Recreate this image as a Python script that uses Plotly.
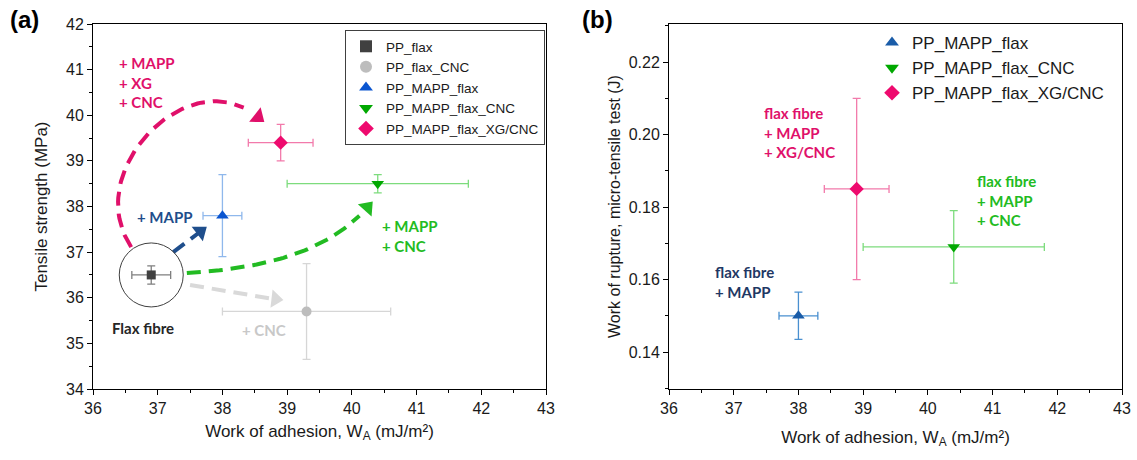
import numpy as np
import plotly.graph_objects as go

W, H = 1137, 460

# ---------------- data ----------------
# Panel (a): work of adhesion vs tensile strength
names_a = ["PP_flax", "PP_flax_CNC", "PP_MAPP_flax", "PP_MAPP_flax_CNC", "PP_MAPP_flax_XG/CNC"]
wa_a = [36.9, 39.3, 38.0, 40.4, 38.9]
wa_err_a = [0.3, 1.3, 0.3, 1.4, 0.5]
ts_a = [36.5, 35.7, 37.8, 38.5, 39.4]
ts_err_a = [0.2, 1.05, 0.9, 0.2, 0.4]

# Panel (b): work of adhesion vs work of rupture
names_b = ["PP_MAPP_flax", "PP_MAPP_flax_CNC", "PP_MAPP_flax_XG/CNC"]
wa_b = [38.0, 40.4, 38.9]
wa_err_b = [0.3, 1.4, 0.5]
wr_b = [0.150, 0.169, 0.185]
wr_err_b = [0.0065, 0.010, 0.025]

x_ticks = [36, 37, 38, 39, 40, 41, 42, 43]
ya_ticks = [34, 35, 36, 37, 38, 39, 40, 41, 42]
yb_ticks = [0.14, 0.16, 0.18, 0.20, 0.22]

# ---------------- styles ----------------
sym_a = ["square", "circle", "triangle-up", "triangle-down", "diamond"]
mcol_a = ["#404040", "#bdbdbd", "#0a55d0", "#00a800", "#ee0a6e"]
ecol_a = ["#7f7f7f", "#d6d6d6", "#8fb8ec", "#7ddc7d", "#f27aab"]
msize_a = [9, 10, 11, 11, 11]

sym_b = ["triangle-up", "triangle-down", "diamond"]
mcol_b = ["#1a5ca8", "#00a800", "#ee0a6e"]
ecol_b = ["#4a90d0", "#7ddc7d", "#f27aab"]
msize_b = [11, 11, 11]

fig = go.Figure()

for i, n in enumerate(names_a):
    fig.add_trace(go.Scatter(
        x=[wa_a[i]], y=[ts_a[i]], mode="markers", name=n,
        marker=dict(symbol=sym_a[i], size=msize_a[i], color=mcol_a[i]),
        error_x=dict(type="data", array=[wa_err_a[i]], color=ecol_a[i], thickness=1.3, width=4),
        error_y=dict(type="data", array=[ts_err_a[i]], color=ecol_a[i], thickness=1.3, width=4),
        xaxis="x", yaxis="y", legend="legend"))

for i, n in enumerate(names_b):
    fig.add_trace(go.Scatter(
        x=[wa_b[i]], y=[wr_b[i]], mode="markers", name=n,
        marker=dict(symbol=sym_b[i], size=msize_b[i], color=mcol_b[i]),
        error_x=dict(type="data", array=[wa_err_b[i]], color=ecol_b[i], thickness=1.3, width=4),
        error_y=dict(type="data", array=[wr_err_b[i]], color=ecol_b[i], thickness=1.3, width=4),
        xaxis="x2", yaxis="y2", legend="legend2"))

# ---------------- curved dashed arrows (annotation geometry, panel a) ----------------
arrows = [
    # (P0, P1, P2, P3, colour)
    ((36.59, 37.11), (35.80, 38.80), (37.50, 41.21), (38.55, 39.96), "#e0106a"),
    ((37.24, 37.00), (37.38, 37.15), (37.52, 37.30), (37.66, 37.45), "#1f4e8c"),
    ((37.45, 36.54), (38.74, 36.65), (39.66, 37.05), (40.24, 37.98), "#22bb22"),
    ((37.50, 36.28), (38.12, 36.13), (38.50, 36.02), (38.82, 35.97), "#d9d9d9"),
]
t = np.linspace(0, 1, 60)
for p0, p1, p2, p3, col in arrows:
    bx = (1-t)**3*p0[0] + 3*(1-t)**2*t*p1[0] + 3*(1-t)*t**2*p2[0] + t**3*p3[0]
    by = (1-t)**3*p0[1] + 3*(1-t)**2*t*p1[1] + 3*(1-t)*t**2*p2[1] + t**3*p3[1]
    fig.add_trace(go.Scatter(
        x=bx[:-4], y=by[:-4], mode="lines", showlegend=False, hoverinfo="skip",
        line=dict(color=col, width=4, dash="14px,8px"), xaxis="x", yaxis="y"))
    sizes = [0]*(len(t)-1) + [16]
    fig.add_trace(go.Scatter(
        x=bx, y=by, mode="markers", showlegend=False, hoverinfo="skip",
        marker=dict(symbol="triangle-up", size=sizes, color=col, opacity=1,
                    angleref="previous", line=dict(width=0)),
        xaxis="x", yaxis="y"))

# circle around PP_flax
fig.add_shape(type="circle", xref="x", yref="y", xsizemode="pixel", ysizemode="pixel",
              xanchor=wa_a[0], yanchor=ts_a[0], x0=-32, x1=32, y0=-32, y1=32,
              line=dict(color="#404040", width=1))

# ---------------- annotations ----------------
lab_font = "Lato, 'Open Sans', sans-serif"
def txt(x, y, s, col, xr="x", yr="y", size=15):
    fig.add_annotation(x=x, y=y, xref=xr, yref=yr, text=s, showarrow=False,
                       xanchor="left", yanchor="middle", align="left",
                       font=dict(family=lab_font, size=size, color=col))

txt(36.37, 40.71, "<b>+ MAPP<br>+ XG<br>+ CNC</b>", "#e0106a")
txt(36.65, 37.77, "<b>+ MAPP</b>", "#1f4e8c")
txt(36.26, 35.34, "<b>Flax fibre</b>", "#262626")
txt(38.27, 35.29, "<b>+ CNC</b>", "#c8c8c8")
txt(40.44, 37.35, "<b>+ MAPP<br>+ CNC</b>", "#22bb22")

txt(37.44, 0.2007, "<b>flax fibre<br>+ MAPP<br>+ XG/CNC</b>", "#e0106a", "x2", "y2")
txt(40.73, 0.1819, "<b>flax fibre<br>+ MAPP<br>+ CNC</b>", "#22bb22", "x2", "y2")
txt(36.68, 0.1593, "<b>flax fibre<br>+ MAPP</b>", "#1f3864", "x2", "y2")

for s, px in [("(a)", 8), ("(b)", 580)]:
    fig.add_annotation(x=px/W, y=1-20/H, xref="paper", yref="paper", text="<b>"+s+"</b>",
                       showarrow=False, xanchor="left", yanchor="middle",
                       font=dict(family="Liberation Sans, Arial", size=24, color="#000"))

# ---------------- axes ----------------
ax_common = dict(showline=True, linecolor="#000", linewidth=1, mirror=True,
                 ticks="outside", ticklen=5, tickwidth=1, tickcolor="#000",
                 showgrid=False, zeroline=False, automargin=False,
                 tickfont=dict(family="Liberation Sans, Arial", size=16, color="#1a1a1a"))
xt = "Work of adhesion, W<sub>A</sub> (mJ/m²)"
fig.update_layout(
    width=W, height=H, plot_bgcolor="white", paper_bgcolor="white",
    margin=dict(l=0, r=0, t=0, b=0, autoexpand=False),
    font=dict(family="Liberation Sans, Arial", color="#1a1a1a"),
    xaxis=dict(domain=[93/W, 546/W], range=[36, 43], tickvals=x_ticks, anchor="y",
               minor=dict(dtick=0.5, ticks="outside", ticklen=3, tickcolor="#000"),
               title=dict(text=xt, font=dict(size=17), standoff=8), **ax_common),
    yaxis=dict(domain=[1-389/H, 1-24/H], range=[34, 42], tickvals=ya_ticks, anchor="x",
               minor=dict(dtick=0.5, ticks="outside", ticklen=3, tickcolor="#000"),
               title=dict(text="Tensile strength (MPa)", font=dict(size=17), standoff=14), **ax_common),
    xaxis2=dict(domain=[669/W, 1122/W], range=[36, 43], tickvals=x_ticks, anchor="y2",
                minor=dict(dtick=0.5, ticks="outside", ticklen=3, tickcolor="#000"),
                title=dict(text=xt, font=dict(size=17), standoff=14), **ax_common),
    yaxis2=dict(domain=[1-389/H, 1-24/H], range=[0.1298, 0.2305], tickvals=yb_ticks,
                tickformat=".2f", anchor="x2",
                minor=dict(dtick=0.01, ticks="outside", ticklen=3, tickcolor="#000"),
                title=dict(text="Work of rupture, micro-tensile test (J)", font=dict(size=16), standoff=4),
                **ax_common),
    legend=dict(x=545/W, y=1-30/H, xanchor="right", yanchor="top",
                bordercolor="#404040", borderwidth=1, bgcolor="white",
                font=dict(size=13.5, family="Liberation Sans, Arial"), tracegroupgap=0,
                itemsizing="constant"),
    legend2=dict(x=872/W, y=1-25/H, xanchor="left", yanchor="top",
                 borderwidth=0, bgcolor="rgba(0,0,0,0)",
                 font=dict(size=17, family="Liberation Sans, Arial"), tracegroupgap=0,
                 itemsizing="constant"),
)

fig.write_html("out.html", config={"displayModeBar": False},
               post_script="document.body.style.margin='0';document.body.style.padding='0';"
                           "document.documentElement.style.overflow='hidden';")
